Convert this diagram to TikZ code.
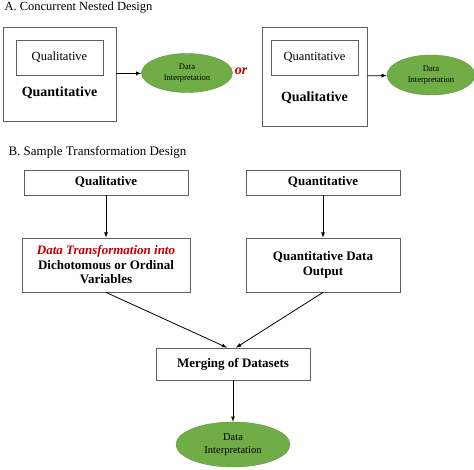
\documentclass[tikz,border=0pt]{standalone}
\usepackage{fontspec}
\setmainfont{Liberation Serif}
\usepackage{tikz}
\usetikzlibrary{shapes,arrows,positioning}
\definecolor{boxgray}{RGB}{95,95,95}
\definecolor{ellgreen}{RGB}{112,173,71}
\definecolor{darkred}{RGB}{192,0,0}
\newcommand{\sizeA}{\fontsize{12.5}{14}\selectfont}
\newcommand{\sizeB}{\fontsize{13}{14.5}\selectfont}

\begin{document}
\begin{tikzpicture}[x=1pt,y=-1pt,>=latex,
		box/.style={draw=boxgray,line width=.8pt,inner sep=0pt,align=center},
		ell/.style={ellipse,draw=ellgreen!85!black,line width=.4pt,fill=ellgreen,inner sep=0pt,align=center},
		link/.style={->,line width=.8pt}]
			\useasboundingbox (0,0) rectangle (474,469);
			% A. nested design
			\node[anchor=west,font=\fontsize{12.5}{14}\selectfont] (titleA) at (1,8) {A. Concurrent Nested Design};
			\node[box,minimum width=113,minimum height=94] (outerL) at (59.5,74) {};
			\node[box,minimum width=87,minimum height=35,font=\sizeA] (innerL) at (59.5,57.5) {Qualitative};
			\node[font=\bfseries\fontsize{14}{15}\selectfont] (mainL) at (59.5,93) {Quantitative};
			\node[ell,minimum width=91,minimum height=39,font=\fontsize{8.5}{11}\selectfont] (interpL) at (187,73) {Data\\Interpretation};
			\node[font=\bfseries\itshape\fontsize{14}{15}\selectfont,text=darkred] (or) at (241,71) {or};
			\node[box,minimum width=105,minimum height=99] (outerR) at (314.5,76.5) {};
			\node[box,minimum width=87,minimum height=35,font=\sizeA] (innerR) at (314.5,57.5) {Quantitative};
			\node[font=\bfseries\fontsize{14}{15}\selectfont] (mainR) at (314.5,98) {Qualitative};
			\node[ell,minimum width=88,minimum height=40,font=\fontsize{8.5}{11}\selectfont] (interpR) at (431,75) {Data\\Interpretation};
			\draw[link] (outerL) -- (interpL);
			\draw[link] (outerR) -- (interpR);
			% B. transformation design
			\node[anchor=west,font=\fontsize{13}{14}\selectfont] (titleB) at (5,152) {B. Sample Transformation Design};
			\node[box,minimum width=164,minimum height=25,font=\bfseries\sizeB] (qual) at (106,182.5) {Qualitative};
			\node[box,minimum width=168,minimum height=54,font=\bfseries\sizeB] (transform) at (106,265) {\textcolor{darkred}{\itshape Data Transformation into}\\Dichotomous or Ordinal\\Variables};
			\node[box,minimum width=154,minimum height=25,font=\bfseries\sizeB] (quant) at (323,182.5) {Quantitative};
			\node[box,minimum width=154,minimum height=54,font=\bfseries\sizeB] (output) at (323,265) {Quantitative Data\\Output};
			\node[box,minimum width=154,minimum height=32,font=\bfseries\sizeB] (merge) at (233,364) {Merging of Datasets};
			\node[ell,minimum width=114,minimum height=45,font=\fontsize{10.5}{13.5}\selectfont] (interpB) at (233,444.5) {Data\\Interpretation};
			\draw[link] (qual) -- (transform);
			\draw[link] (quant) -- (output);
			\draw[link] (transform.south) -- ([xshift=-6]merge.north);
			\draw[link] (output.south) -- ([xshift=3]merge.north);
			\draw[link] (merge) -- (interpB);
		\end{tikzpicture}
\end{document}
